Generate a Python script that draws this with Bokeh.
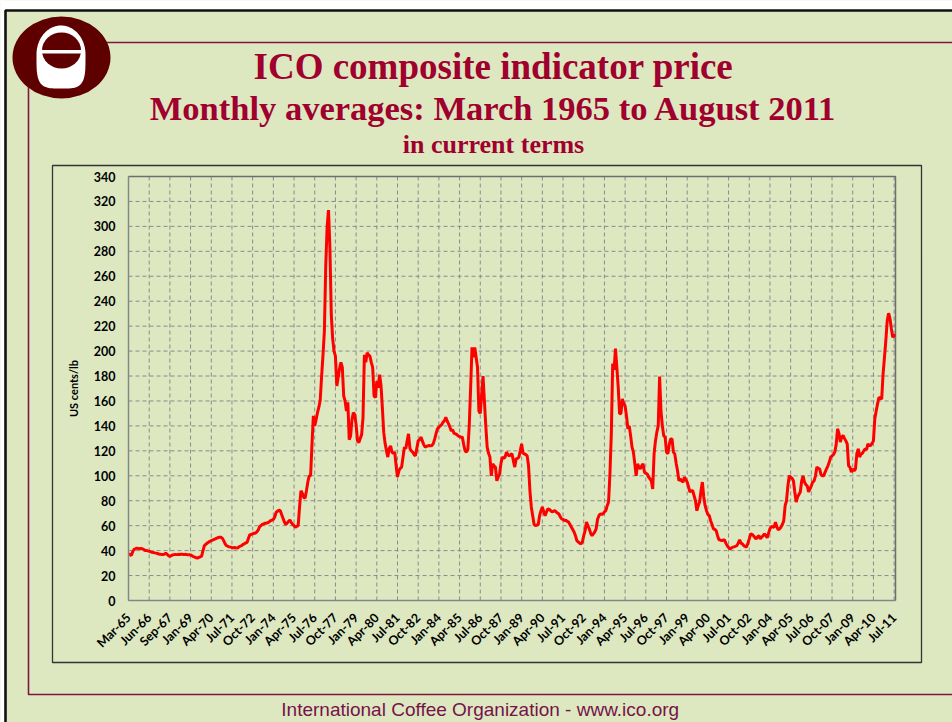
import numpy as np
from bokeh.plotting import figure
from bokeh.models import FixedTicker, LinearAxis, Range1d
from bokeh.core.properties import value
from bokeh.embed import file_html
from bokeh.resources import INLINE

# ---------------- data (monthly ICO composite indicator, US cents/lb) ----------------
tick_labels = ["Mar-65", "Jun-66", "Sep-67", "Jan-69", "Apr-70", "Jul-71", "Oct-72", "Jan-74",
               "Apr-75", "Jul-76", "Oct-77", "Jan-79", "Apr-80", "Jul-81", "Oct-82", "Jan-84",
               "Apr-85", "Jul-86", "Oct-87", "Jan-89", "Apr-90", "Jul-91", "Oct-92", "Jan-94",
               "Apr-95", "Jul-96", "Oct-97", "Jan-99", "Apr-00", "Jul-01", "Oct-02", "Jan-04",
               "Apr-05", "Jul-06", "Oct-07", "Jan-09", "Apr-10", "Jul-11"]

prices_1965_1970 = [
    37.3, 37, 36, 39, 41, 41.5, 42, 41.8, 41.5, 41.7, 41.5, 41, 40, 40.2, 39.8,
    39.5, 39, 38.7, 38.5, 38.2, 38, 37.7, 37.3, 37, 36.9, 36.8, 37.2, 38, 37, 36,
    35.2, 36, 36.5, 36.8, 37, 36.8, 37, 36.9, 37, 37.1, 36.8, 37, 36.9, 36.6, 36.8,
    36.5, 36, 35.2, 34.8, 34.3, 34, 34.5, 35, 35.5, 40, 44, 45, 46, 46.7, 47.5,
    48, 48.5, 49, 49.5, 50, 50.5, 50.7, 50.7, 50, 48, 45.5, 44, 43.5, 43, 42.8,
]
prices_1971_1977 = [
    42.5, 42.3, 42.5, 42.2, 42, 43, 43.5, 44, 45, 45.5, 46.2, 46.7, 50, 52.8, 53,
    53.5, 54, 54, 55, 56.5, 59, 60, 61, 61.5, 62, 62, 62.5, 63, 64, 64.5,
    65, 67, 70.7, 71.5, 72.5, 72, 69, 66, 63, 61, 62, 63.5, 64.5, 62.5, 61,
    60, 58.7, 59.5, 60, 75, 88, 86, 82.7, 82, 88, 95, 100, 100, 125, 148,
    140, 145, 150.7, 155, 161, 180, 197, 216, 269, 300, 313, 283, 229, 210, 200,
]
prices_1977_1983 = [
    196, 172, 179, 186, 191, 187, 164, 160, 152, 159, 129, 132, 145, 150.7, 149,
    141, 128, 126.7, 130, 133, 146.7, 197, 191, 198.7, 197, 196, 191, 187, 164, 162.7,
    176, 170.7, 181, 173, 155, 135, 126, 120, 115, 122, 124, 119, 118, 119, 108,
    99, 104, 106, 107, 115, 123, 121.6, 128, 133.7, 122, 120, 119, 117, 116, 122,
    128, 129, 131, 128, 125, 123, 123.5, 124, 124.3, 124, 124.3, 126, 129.6, 134, 137.7,
]
prices_1984_1989 = [
    139, 140, 141, 143, 144, 147, 144, 141.7, 139, 136, 137, 134, 133.7, 133, 132,
    131.5, 131, 131, 125, 120, 119, 121, 140, 170, 203, 195, 203, 195, 187, 152,
    150, 165, 180, 160, 140, 123, 118, 115, 100, 109.6, 108, 107, 96, 99, 101.6,
    110, 115, 114, 115, 119, 117, 116, 117, 117.6, 112, 107, 113.6, 114, 115, 120,
    125.6, 118, 117.6, 117, 116, 108, 88, 75, 68, 61, 60, 60.5, 60.7, 68, 72,
]
prices_1990_1996 = [
    75, 71, 68, 71, 73.5, 73, 72, 71, 71.5, 72, 71, 70, 69.5, 67, 65.5,
    65, 64, 64.5, 63.5, 63, 61, 59, 57, 55, 52, 48, 47, 46, 45.4, 46.8,
    52, 56, 63, 60, 57.5, 54, 52, 53.5, 55, 57.5, 65, 68, 69.5, 69, 69.5,
    71, 72, 76, 79, 101.6, 133.7, 190, 185, 202, 187, 171, 149.7, 150, 161.7, 158,
    156, 148, 137.7, 140, 132, 123, 119, 110, 100, 109.6, 107, 105.6, 108, 109.6, 103,
]
prices_1996_2002 = [
    102, 101.6, 99, 97.6, 96, 89.5, 117.6, 128, 135, 140, 179.6, 152, 140, 132, 131,
    119, 117.6, 125, 129.6, 129.6, 119, 117.6, 110, 104, 96, 97.6, 96, 95, 99, 97,
    95, 91, 87, 88, 88, 84, 80, 72, 76, 79, 88, 95, 83, 76, 72,
    69, 68, 64, 61, 57.5, 57, 56, 52, 48.7, 48.5, 48, 48.3, 48.7, 46, 44,
    42.5, 41.4, 42, 42.8, 43, 43.5, 44, 46, 48.7, 46, 45.4, 44, 43.3, 42.8, 46,
]
prices_2002_2008 = [
    49.4, 53.5, 53, 52, 50.5, 49.4, 51, 52, 49.4, 50.8, 52, 53.5, 52, 50.3, 54,
    57.5, 59.3, 59, 58.8, 62.8, 59, 56.7, 57.5, 58.8, 61, 64, 76, 80, 92, 100,
    99, 98, 96, 87, 79, 83, 85, 87, 96, 100, 95, 93, 92, 87, 89.5,
    92, 95, 96, 100, 107, 106, 105.6, 101, 100, 100, 103, 105.6, 108, 111, 115,
    116, 117, 119, 125, 137.7, 134, 127, 131, 132.4, 130, 128, 125.6, 108, 107, 103,
]
prices_2008_2011 = [
    105.6, 104, 105.6, 118, 121.6, 115, 117.6, 118, 120, 121.6, 121, 125.6, 124.3, 124.3, 126,
    128, 145.7, 152, 157.7, 163, 162, 161.7, 181.8, 195, 208.5, 224.5, 230.4, 226, 218, 211,
    212.5, 212.5,
]

prices = (prices_1965_1970 + prices_1971_1977 + prices_1977_1983 + prices_1984_1989 +
          prices_1990_1996 + prices_1996_2002 + prices_2002_2008 + prices_2008_2011)
month_index = list(range(len(prices)))
tick_step = 15
x_ticks = [tick_step * i for i in range(len(tick_labels))]
y_ticks = list(range(0, 341, 20))
Y_MAX = 340

# ---------------- layout (pixels of the 952x722 page) ----------------
W, H = 952, 722
PL, PR, PT, PB = 128, 895, 176, 600          # plot-area box
X_MAX = len(prices) - 1
kx = (PR - PL) / X_MAX
ky = (PB - PT) / Y_MAX

BG = "#DDE8C1"
TITLE_C = "#A0002E"
FRAME_C = "#80163F"
LOGO_C = "#5E0000"
GRID_C = "#8A8A8A"

p = figure(width=W, height=H, output_backend="svg", toolbar_location=None,
           x_axis_type=None, y_axis_type=None, min_border=0,
           x_range=Range1d(-PL / kx, X_MAX + (W - PR) / kx),
           y_range=Range1d(-(H - PB) / ky, Y_MAX + PT / ky),
           background_fill_color=BG, border_fill_color=BG, outline_line_color=None)
p.grid.visible = False
p.extra_x_ranges["px"] = Range1d(0, W)
p.extra_y_ranges["py"] = Range1d(H, 0)
PX = dict(x_range_name="px", y_range_name="py")

# ---- page decorations (pixel space) ----
p.quad(left=[-20, -20], right=[W + 20, 5], top=[-20, -20], bottom=[10, H + 20],
       fill_color="white", line_color=None, **PX)
p.line(x=[5, 5, W + 20], y=[H + 20, 10, 10], line_color="#111111", line_width=2.6, **PX)
p.line(x=[W + 20, 28, 28, W + 20], y=[42, 42, 694, 694], line_color=FRAME_C, line_width=1.6, **PX)
p.quad(left=[52], right=[921], top=[165], bottom=[662], fill_alpha=0,
       line_color="#333333", line_width=1.3, **PX)

# logo
p.ellipse(x=[61], y=[57], width=[98], height=[82], fill_color=LOGO_C, line_color=None, **PX)
t = np.linspace(0, 2 * np.pi, 160)
sy = np.sin(t)
expo = np.where(sy > 0, 0.5, 1.0)
wx = np.sign(np.cos(t)) * np.abs(np.cos(t)) ** expo
wy = np.sign(sy) * np.abs(sy) ** expo
wyy = np.where(sy > 0, 54 + 34 * wy, 54 + 29 * wy)
p.patch(x=list(60.5 + 24.5 * wx), y=list(wyy), fill_color="white", line_color=None, **PX)
p.ellipse(x=[61], y=[50], width=[39], height=[36], fill_color=LOGO_C, line_color=None, **PX)
p.quad(left=[40], right=[82], top=[49.5], bottom=[53], fill_color="white", line_color=None, **PX)

# texts
def title(txt, x, y, size, font="Liberation Serif", color=TITLE_C, style="bold"):
    p.text(x=[x], y=[y], text=[txt], text_font=value(font), text_font_style=style,
           text_font_size=value(size), text_color=color, text_align="center",
           text_baseline="alphabetic", **PX)


title("ICO composite indicator price", 493, 66, "37px")
title("Monthly averages: March 1965 to August 2011", 493, 107, "34.5px")
title("in current terms", 493, 144, "26px")
title("International Coffee Organization  -  www.ico.org", 485, 709, "19px",
      font="Liberation Sans", color="#77124A", style="normal")

# ---- chart (data space) ----
p.segment(x0=x_ticks, y0=[0] * len(x_ticks), x1=x_ticks, y1=[Y_MAX] * len(x_ticks),
          line_color=GRID_C, line_dash="4 3", line_width=1)
p.segment(x0=[0] * len(y_ticks), y0=y_ticks, x1=[X_MAX] * len(y_ticks), y1=y_ticks,
          line_color=GRID_C, line_dash="4 3", line_width=1)
p.line(x=[0, X_MAX, X_MAX], y=[Y_MAX, Y_MAX, 0], line_color="#6E6E6E", line_width=1.5)

p.line(month_index, prices, line_color="#FF0000", line_width=3)

xaxis = LinearAxis(fixed_location=0, bounds=(0, X_MAX), ticker=FixedTicker(ticks=x_ticks))
xaxis.major_label_overrides = {tick_step * i: lab for i, lab in enumerate(tick_labels)}
xaxis.major_label_orientation = np.pi / 4
xaxis.major_label_standoff = 15
yaxis = LinearAxis(fixed_location=0, bounds=(0, Y_MAX), ticker=FixedTicker(ticks=y_ticks))
yaxis.major_label_standoff = 13
yaxis.axis_label = "US cents/lb"
yaxis.axis_label_text_font = "Lato"
yaxis.axis_label_text_font_style = "bold"
yaxis.axis_label_text_font_size = "11px"
yaxis.axis_label_text_color = "#000000"
yaxis.axis_label_standoff = 11
for ax in (xaxis, yaxis):
    ax.axis_line_color = "#868686"
    ax.axis_line_width = 1.5
    ax.major_tick_line_color = None
    ax.minor_tick_line_color = None
    ax.major_tick_out = 0
    ax.major_tick_in = 0
    ax.major_label_text_font = "Lato"
    ax.major_label_text_font_style = "bold"
    ax.major_label_text_font_size = "12.5px"
    ax.major_label_text_color = "#000000"
p.add_layout(xaxis, "below")
p.add_layout(yaxis, "left")

open("out.html", "w").write(file_html(p, INLINE))
